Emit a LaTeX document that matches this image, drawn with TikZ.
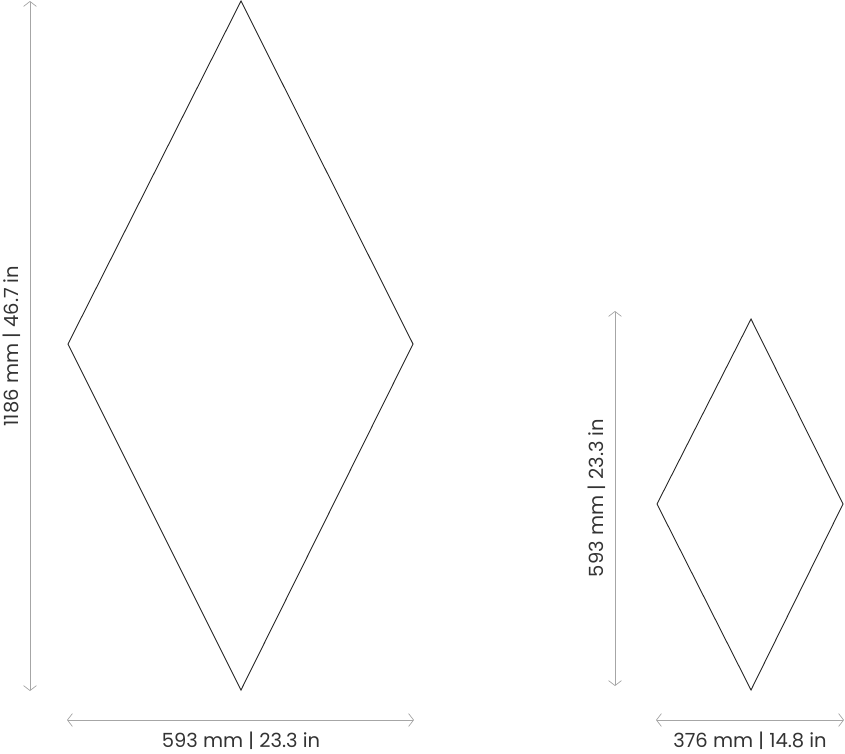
\documentclass[tikz,border=0pt]{standalone}
\usepackage{fontspec}
\setmainfont{Poppins}
\usetikzlibrary{arrows.meta}

\tikzset{
  tile/.style={draw=black!85, line width=0.9pt, line join=miter},
  dimline/.style={draw=black!35, line width=0.7pt, {Straight Barb[length=5pt,width=13pt]}-{Straight Barb[length=5pt,width=13pt]}},
  dimtext/.style={font=\fontsize{19.5}{22}\selectfont, text=black!80, inner sep=0pt}
}

\begin{document}
\begin{tikzpicture}[x=1pt, y=-1pt]
        \useasboundingbox (0,0) rectangle (845,753);
        % Large tile
        \coordinate (bigtop) at (241,1);
        \coordinate (bigleft) at (68,344);
        \coordinate (bigright) at (413,344);
        \coordinate (bigbottom) at (241,690);
        \draw[tile] (bigtop) -- (bigright) -- (bigbottom) -- (bigleft) -- cycle;

        % Small tile
        \coordinate (smalltop) at (751,319);
        \coordinate (smallleft) at (657,504);
        \coordinate (smallright) at (843,504);
        \coordinate (smallbottom) at (751,690);
        \draw[tile] (smalltop) -- (smallright) -- (smallbottom) -- (smallleft) -- cycle;

        % Dimension lines
        \coordinate (bighA) at (67,720);
        \coordinate (bighB) at (414,720);
        \coordinate (bigvA) at (30,1);
        \coordinate (bigvB) at (30,691);
        \coordinate (smallhA) at (656,720);
        \coordinate (smallhB) at (844,720);
        \coordinate (smallvA) at (615,311);
        \coordinate (smallvB) at (615,686);
        \draw[dimline] (bighA) -- (bighB);
        \draw[dimline] (bigvA) -- (bigvB);
        \draw[dimline] (smallhA) -- (smallhB);
        \draw[dimline] (smallvA) -- (smallvB);

        % Labels
        \node[dimtext] (bigwidth) at (241,741) {593 mm | 23.3 in};
        \node[dimtext, rotate=90] (bigheight) at (12,346) {1186 mm | 46.7 in};
        \node[dimtext] (smallwidth) at (750,741) {376 mm | 14.8 in};
        \node[dimtext, rotate=90] (smallheight) at (597,498) {593 mm | 23.3 in};
\end{tikzpicture}
\end{document}
